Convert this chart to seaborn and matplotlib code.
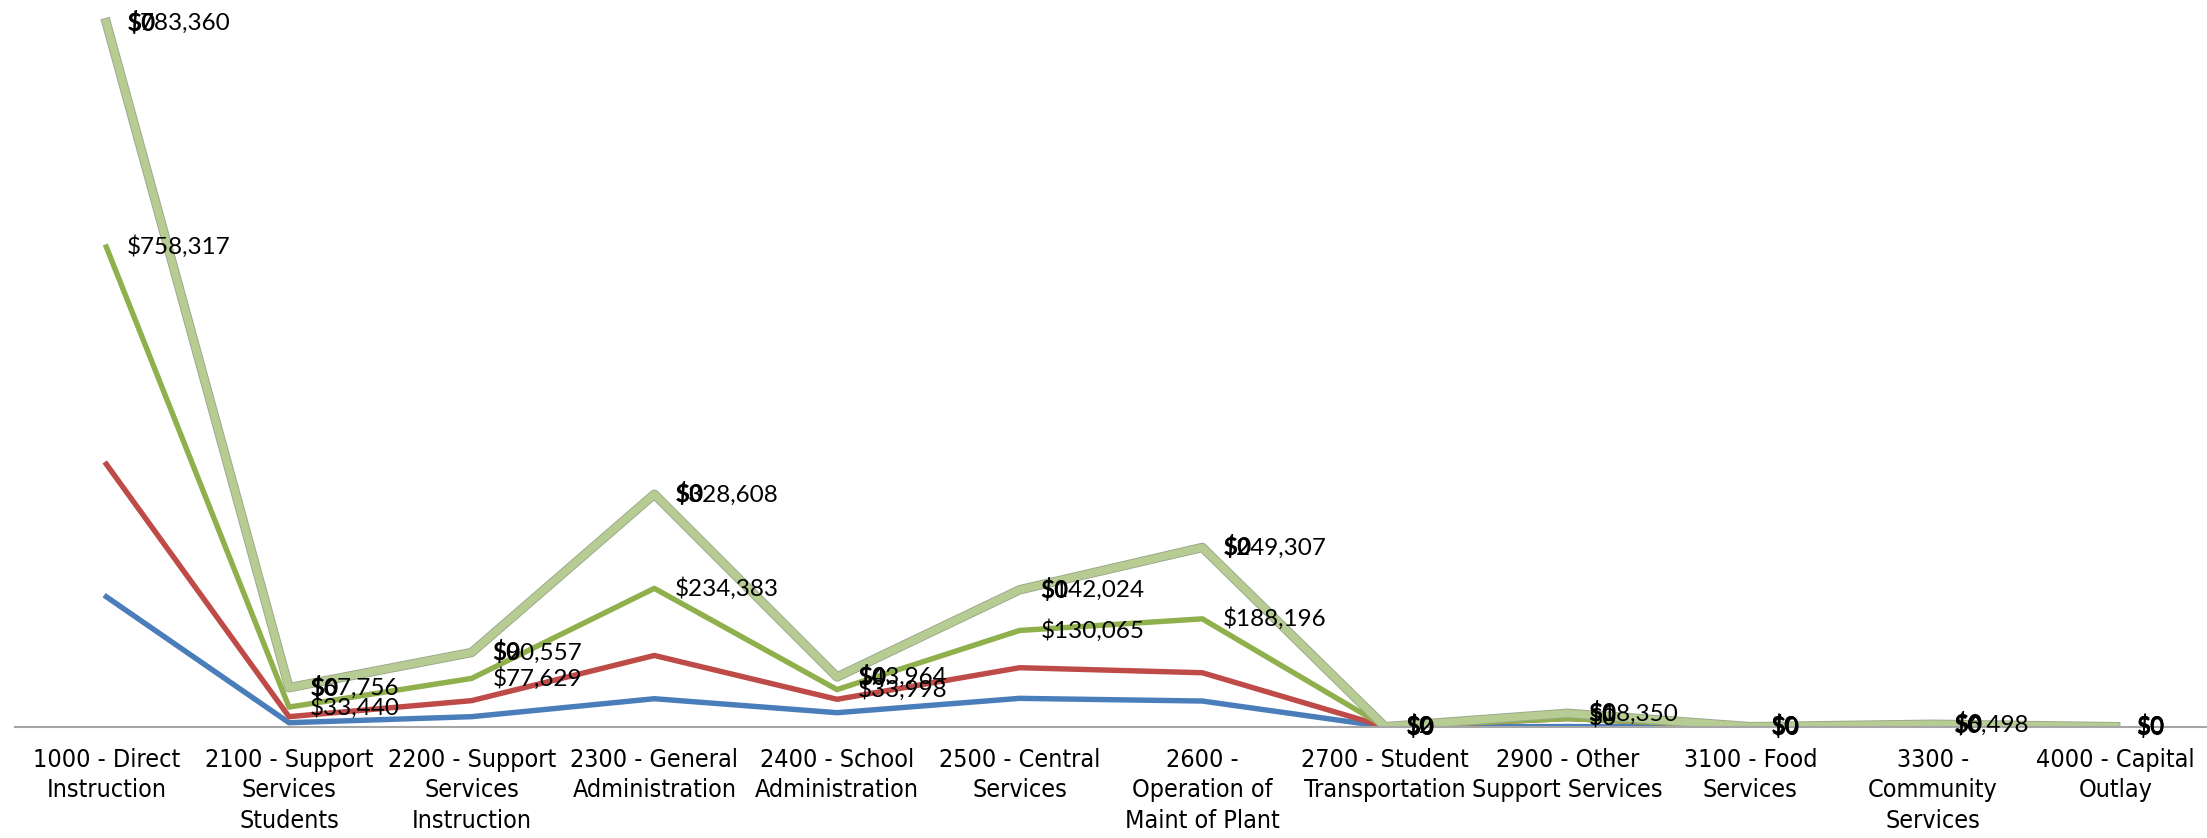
import numpy as np
import pandas as pd
import matplotlib
matplotlib.use("Agg")
import matplotlib.pyplot as plt
import matplotlib.patheffects as pe
import seaborn as sns

# Function codes along the x axis
categories = [
    "1000 - Direct\nInstruction",
    "2100 - Support\nServices\nStudents",
    "2200 - Support\nServices\nInstruction",
    "2300 - General\nAdministration",
    "2400 - School\nAdministration",
    "2500 - Central\nServices",
    "2600 -\nOperation of\nMaint of Plant",
    "2700 - Student\nTransportation",
    "2900 - Other\nSupport Services",
    "3100 - Food\nServices",
    "3300 -\nCommunity\nServices",
    "4000 - Capital\nOutlay",
]

# Stacked series (own values, estimated where not labelled)
series_a = [453700, 14000, 35000, 97700, 48900, 99000, 89600, 0, 500, 0, 500, 0]
series_b = [463000, 21000, 56000, 151000, 46800, 107000, 98800, 0, 28000, 0, 1500, 0]
series_c = [758317, 33440, 77629, 234383, 33998, 130065, 188196, 2, 0, 0, 0, 0]
series_d = [783360, 67756, 90557, 328608, 43964, 142024, 249307, 0, 18350, 0, 6498, 0]
series_e = [0, 0, 0, 0, 0, 0, 0, 0, 0, 0, 0, 0]

colors = {"A": "#4a7ebb", "B": "#be4b48", "C": "#8fb04c", "D": "#b6cc92"}

W, H = 2207, 838
fig = plt.figure(figsize=(W / 100, H / 100), dpi=100)
ax = fig.add_axes([15 / W, (H - 726.7) / H, (W - 15) / W, 716 / H])

x = np.arange(len(categories))
own = pd.DataFrame({"A": series_a, "B": series_b, "C": series_c,
                    "D": series_d, "E": series_e})
cum = own.cumsum(axis=1)

for name in ["A", "B", "C", "D"]:
    kw = dict(linewidth=3.9, color=colors[name])
    if name == "D":
        kw = dict(linewidth=5.5, color=colors[name],
                  path_effects=[pe.Stroke(linewidth=6.8, foreground="#9aa78a"),
                                pe.Normal()])
    sns.lineplot(x=x, y=cum[name].values, ax=ax, legend=False, **kw)

# data labels to the right of each point
lab_font = ["Lato", "DejaVu Sans"]
for name in ["C", "D"]:
    for i in x:
        ax.annotate(f"${own[name][i]:,.0f}", (i, cum[name][i]),
                    xytext=(15, 0), textcoords="offset points",
                    va="center", ha="left", fontsize=17.5, family=lab_font)
for i in x:
    ax.annotate(f"${own['E'][i]:,.0f}", (i, cum["E"][i]),
                xytext=(15, 0), textcoords="offset points",
                va="center", ha="left", fontsize=17.5, family=lab_font,
                fontweight="bold")

ax.set_xlim(-0.5, len(categories) - 0.5)
ax.set_ylim(0, 2.5e6)
ax.set_xticks(x)
ax.set_xticklabels(categories, fontsize=18, family=["DejaVu Sans"],
                   fontstretch="condensed", linespacing=1.35)
ax.tick_params(axis="x", length=0, pad=15)
ax.set_yticks([])
for s in ["top", "right", "left"]:
    ax.spines[s].set_visible(False)
ax.spines["bottom"].set_color("#a6a6a6")
ax.spines["bottom"].set_linewidth(1.5)
ax.set_xlabel("")
ax.set_ylabel("")
ax.patch.set_alpha(0)

fig.savefig("out.png", dpi=100)
